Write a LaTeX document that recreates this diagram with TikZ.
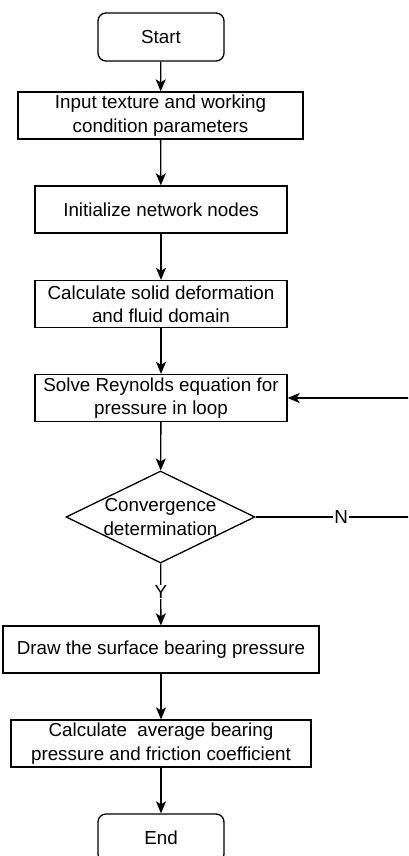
\documentclass[tikz,border=0pt]{standalone}
\usepackage{fontspec}
\setmainfont{Liberation Sans}
\usetikzlibrary{shapes.geometric}
\usetikzlibrary{arrows.meta}

\tikzset{
  terminal/.style={draw, rounded corners=8pt, minimum width=126pt, minimum height=48pt, inner sep=0pt},
  process/.style={draw, align=center, minimum height=47pt, inner sep=0pt},
  decision/.style={draw, diamond, minimum width=189pt, minimum height=92pt, inner sep=0pt},
  flow/.style={-{Stealth[length=12pt,width=10pt,inset=3pt]}},
  tag/.style={fill=white, inner sep=1pt},
}

\begin{document}
\begin{tikzpicture}[x=1pt, y=-1pt, line width=1.3pt, font=\fontsize{18.8}{23.3}\selectfont]
        \useasboundingbox (0,0) rectangle (408,856);
        \clip (0,0) rectangle (408,856);

        \node[terminal] (start) at (161,37) {Start};
        \node[process, minimum width=285pt] (input) at (160.5,115.5)
            {Input texture and working\\condition parameters};
        \node[process, minimum width=252pt] (init) at (161,209.5)
            {Initialize network nodes};
        \node[process, minimum width=252pt] (calc) at (161,304)
            {Calculate solid deformation\\and fluid domain};
        \node[process, minimum width=252pt] (solve) at (161,398)
            {Solve Reynolds equation for\\pressure in loop};
        \node[decision] (dec) at (160.5,517) {};
        \node[align=center, inner sep=0pt] (dectext) at (dec.center)
            {Convergence\\determination};
        \node[process, minimum width=316pt] (surf) at (161,649.5)
            {Draw the surface bearing pressure};
        \node[process, minimum width=300pt] (avg) at (161,743.5)
            {Calculate\ \ average bearing\\pressure and friction coefficient};
        \node[terminal] (end) at (161,838) {End};

        \coordinate (loop) at (420,517);

        \draw[flow] (start) -- (input);
        \draw[flow] (input) -- (init);
        \draw[flow] (init) -- (calc);
        \draw[flow] (calc) -- (solve);
        \draw[flow] (solve) -- (dec);
        \draw[flow] (dec) -- node[tag, pos=0.46] {Y} (surf);
        \draw[flow] (dec.east) -- node[tag, pos=0.52] {N} (loop) |- (solve.east);
        \draw[flow] (surf) -- (avg);
        \draw[flow] (avg) -- (end);
\end{tikzpicture}
\end{document}
